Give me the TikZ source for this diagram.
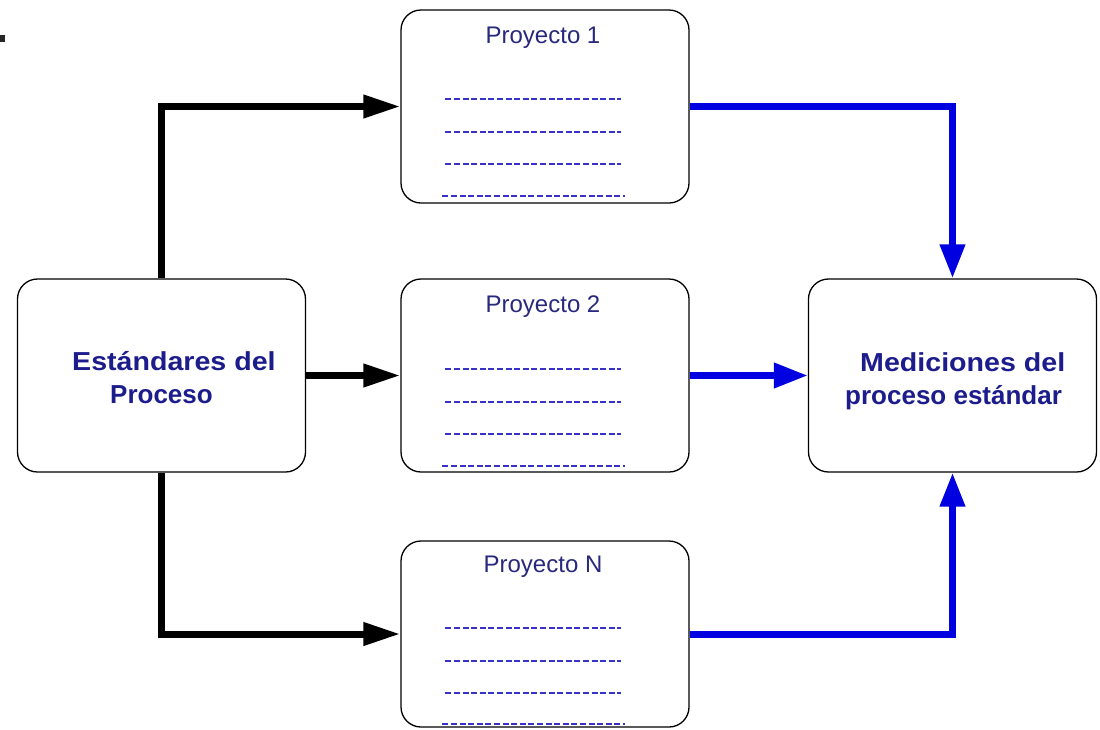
\documentclass[tikz,border=0pt]{standalone}
\usepackage{fontspec}
\setmainfont{Liberation Sans}
\newfontfamily\widesans[FakeStretch=1.1]{Liberation Sans}
\usetikzlibrary{arrows.meta,calc}

\definecolor{navytext}{RGB}{28,28,140}
\definecolor{titletext}{RGB}{40,40,125}
\definecolor{dashblue}{RGB}{55,50,200}
\definecolor{flowblue}{RGB}{0,0,225}

\tikzset{
  box/.style={draw=black, line width=1.3pt, rounded corners=20pt,
    minimum width=288pt, minimum height=193pt, inner sep=0pt},
  boxtext/.style={font=\fontsize{26}{33}\selectfont\bfseries, text=navytext,
    align=left, inner sep=0pt},
  title/.style={font=\fontsize{24}{28}\selectfont, text=titletext, inner sep=0pt},
  rule/.style={dashblue, line width=1.9pt, dash pattern=on 6pt off 2.6pt},
  feed/.style={black, line width=7pt, -{Triangle[length=37pt,width=22pt]}},
  collect/.style={flowblue, line width=7pt, -{Triangle[length=34pt,width=24pt]}},
}
\newcommand{\wideline}[1]{{\widesans\bfseries #1}}

\begin{document}
\begin{tikzpicture}[x=1pt,y=-1pt]
  \useasboundingbox (0,0) rectangle (1100,729);
  \fill[white] (0,0) rectangle (1100,729);
  \fill[black!85] (0,35) rectangle (5,42);

  % boxes
  \node[box] (std) at (161.5,375.5) {};
  \node[box] (p1)  at (545,106.5) {};
  \node[box] (p2)  at (545,375.5) {};
  \node[box, minimum height=186pt] (pn) at (545,634) {};
  \node[box] (med) at (952.5,375.5) {};

  % box texts (base anchor sits on the last line)
  \node[boxtext, anchor=base west] (stdt) at (72,403)
    {\wideline{Estándares del}\\\hspace*{38pt}Proceso};
  \node[boxtext, anchor=base west] (medt) at (845,404)
    {\hspace*{15pt}\wideline{Mediciones del}\\proceso estándar};

  \node[title, anchor=base] (p1t) at ($(p1.north)+(-2,34)$) {Proyecto 1};
  \node[title, anchor=base] (p2t) at ($(p2.north)+(-2,34)$) {Proyecto 2};
  \node[title, anchor=base] (pnt) at ($(pn.north)+(-2,32)$) {Proyecto N};

  % dotted entry lines inside each project box
  \foreach \b/\a/\c/\d/\e in {p1/90/123/155/187, p2/91/124/156/188, pn/88/121/153/184}{
    \foreach \dy in {\a,\c,\d}
      \draw[rule] ($(\b.north west)+(45,\dy)$) -- ++(176,0);
    \draw[rule] ($(\b.north west)+(42,\e)$) -- ++(183,0);
  }

  % connectors
  \draw[feed] (std.north) |- (p1.west);
  \draw[feed] (std.east) -- (p2.west);
  \draw[feed] (std.south) |- (pn.west);

  \draw[collect] (p1.east) -| (med.north);
  \draw[collect] (p2.east) -- (med.west);
  \draw[collect] (pn.east) -| (med.south);
\end{tikzpicture}
\end{document}
